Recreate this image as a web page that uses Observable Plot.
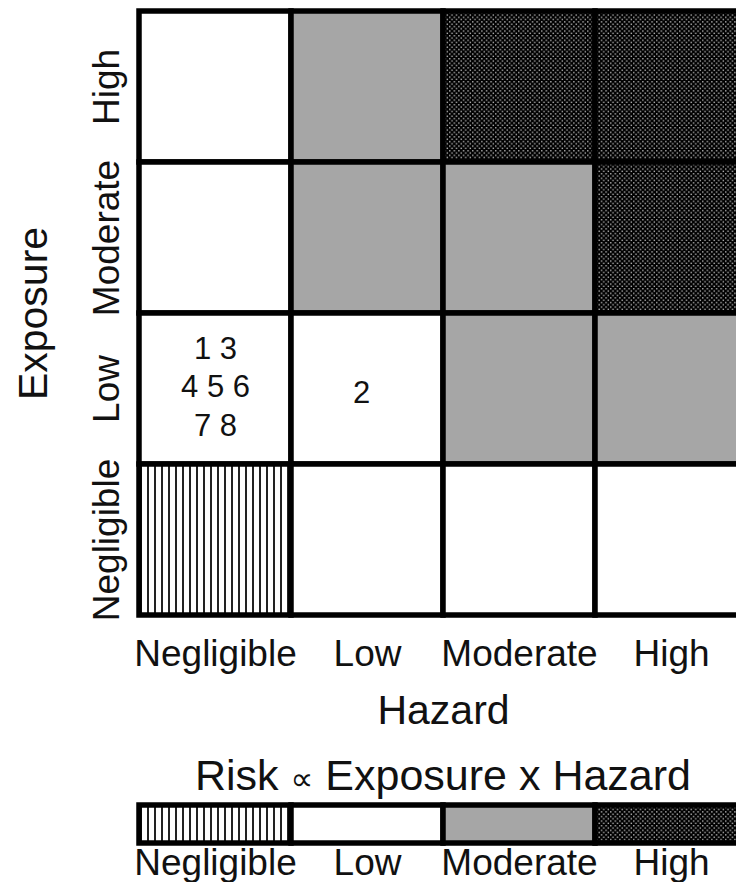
<!DOCTYPE html>
<html><head><meta charset="utf-8">
<script src="https://cdn.jsdelivr.net/npm/d3@7"></script>
<script src="https://cdn.jsdelivr.net/npm/@observablehq/plot@0.6"></script>
<style>
html,body{margin:0;padding:0;background:#fff;overflow:hidden;}
body{width:736px;height:882px;position:relative;font-family:"Liberation Sans",Arial,sans-serif;color:#111;}
#chart{position:absolute;left:0;top:0;width:760px;}
#legendTitle{position:absolute;left:0;top:754px;width:886px;text-align:center;font-size:43px;line-height:43px;white-space:nowrap;}
#legendTitle .prop{font-size:32px;font-family:"DejaVu Sans",sans-serif;}
#legend{position:absolute;left:0;top:790px;width:760px;}
svg text{font-family:"Liberation Sans",Arial,sans-serif;}
</style></head><body>
<svg id="defs" width="0" height="0" style="position:absolute"></svg>
<div id="chart"></div>
<div id="legendTitle"></div>
<div id="legend"></div>
<script>
// ---- data ----
const hazardLevels = ["Negligible", "Low", "Moderate", "High"];
const exposureLevels = ["High", "Moderate", "Low", "Negligible"]; // top to bottom
const riskLevels = ["Negligible", "Low", "Moderate", "High"];
// risk level for each hazard column, one array per exposure row
const riskExpHigh = ["Low", "Moderate", "High", "High"];
const riskExpModerate = ["Low", "Moderate", "Moderate", "High"];
const riskExpLow = ["Low", "Low", "Moderate", "Moderate"];
const riskExpNegligible = ["Negligible", "Low", "Low", "Low"];
// study numbers placed in cells
const labelHazard = ["Negligible", "Low"];
const labelExposure = ["Low", "Low"];
const labelText = ["1 3\n4 5 6\n7 8", "2"];
const legendTitle = "Risk \u221d Exposure x Hazard";

// ---- patterns ----
const defs = d3.select("#defs").append("defs");
const ps = defs.append("pattern").attr("id", "vstripes").attr("patternUnits", "userSpaceOnUse")
  .attr("width", 7).attr("height", 10);
ps.append("rect").attr("width", 7).attr("height", 10).attr("fill", "#fff");
ps.append("rect").attr("x", 0).attr("width", 2).attr("height", 10).attr("fill", "#222");
const pd = defs.append("pattern").attr("id", "dots").attr("patternUnits", "userSpaceOnUse")
  .attr("width", 4.6).attr("height", 4.6);
pd.append("rect").attr("width", 4.6).attr("height", 4.6).attr("fill", "#000");
pd.append("rect").attr("x", 0.5).attr("y", 0.5).attr("width", 1.4).attr("height", 1.4).attr("fill", "#b8b8b8");
pd.append("rect").attr("x", 2.8).attr("y", 2.8).attr("width", 1.4).attr("height", 1.4).attr("fill", "#b8b8b8");

const riskRows = {High: riskExpHigh, Moderate: riskExpModerate, Low: riskExpLow, Negligible: riskExpNegligible};
const matrix = exposureLevels.flatMap(e => hazardLevels.map((h, i) => ({hazard: h, exposure: e, risk: riskRows[e][i]})));
const labels = labelText.map((t, i) => ({hazard: labelHazard[i], exposure: labelExposure[i], text: t}));

const colorScale = {domain: riskLevels, range: ["url(#vstripes)", "#ffffff", "#a6a6a6", "url(#dots)"]};
const svgStyle = {background: "transparent", maxWidth: "none", overflow: "visible"};

const chart = Plot.plot({
  width: 760, height: 745,
  marginLeft: 139, marginRight: 13, marginTop: 10, marginBottom: 129,
  x: {domain: hazardLevels, padding: 0},
  y: {domain: exposureLevels, padding: 0, axis: null},
  color: colorScale,
  style: svgStyle,
  marks: [
    Plot.cell(matrix, {x: "hazard", y: "exposure", fill: "risk", stroke: "#000", strokeWidth: 5.5}),
    Plot.text(labels.filter(d => d.text.includes("\n")), {x: "hazard", y: "exposure", text: "text", fontSize: 31, lineHeight: 1.24, dy: -4, fill: "#111"}),
    Plot.text(labels.filter(d => !d.text.includes("\n")), {x: "hazard", y: "exposure", text: "text", fontSize: 31, dx: -6, dy: 4, fill: "#111"}),
    Plot.axisX({tickSize: 0, tickPadding: 23, fontSize: 37, label: null, fill: "#111"}),
    Plot.text(exposureLevels, {y: d => d, frameAnchor: "left", textAnchor: "middle", dx: -32, rotate: -90, fontSize: 37, fill: "#111"}),
    Plot.text(["Hazard"], {frameAnchor: "bottom", textAnchor: "middle", dy: 107, fontSize: 41, fill: "#111"}),
    Plot.text(["Exposure"], {frameAnchor: "left", textAnchor: "middle", dx: -106, rotate: -90, fontSize: 41, fill: "#111"})
  ]
});
document.getElementById("chart").append(chart);

document.getElementById("legendTitle").innerHTML =
  legendTitle.replace("\u221d", '<span class="prop">\u221d</span>');

const legend = Plot.plot({
  width: 760, height: 92,
  marginLeft: 139, marginRight: 13, marginTop: 15, marginBottom: 39,
  x: {domain: riskLevels, padding: 0},
  color: colorScale,
  style: svgStyle,
  marks: [
    Plot.cell(riskLevels, {x: d => d, fill: d => d, stroke: "#000", strokeWidth: 5.5}),
    Plot.axisX({tickSize: 0, tickPadding: 5, fontSize: 37, label: null, fill: "#111"})
  ]
});
document.getElementById("legend").append(legend);
</script>
</body></html>
